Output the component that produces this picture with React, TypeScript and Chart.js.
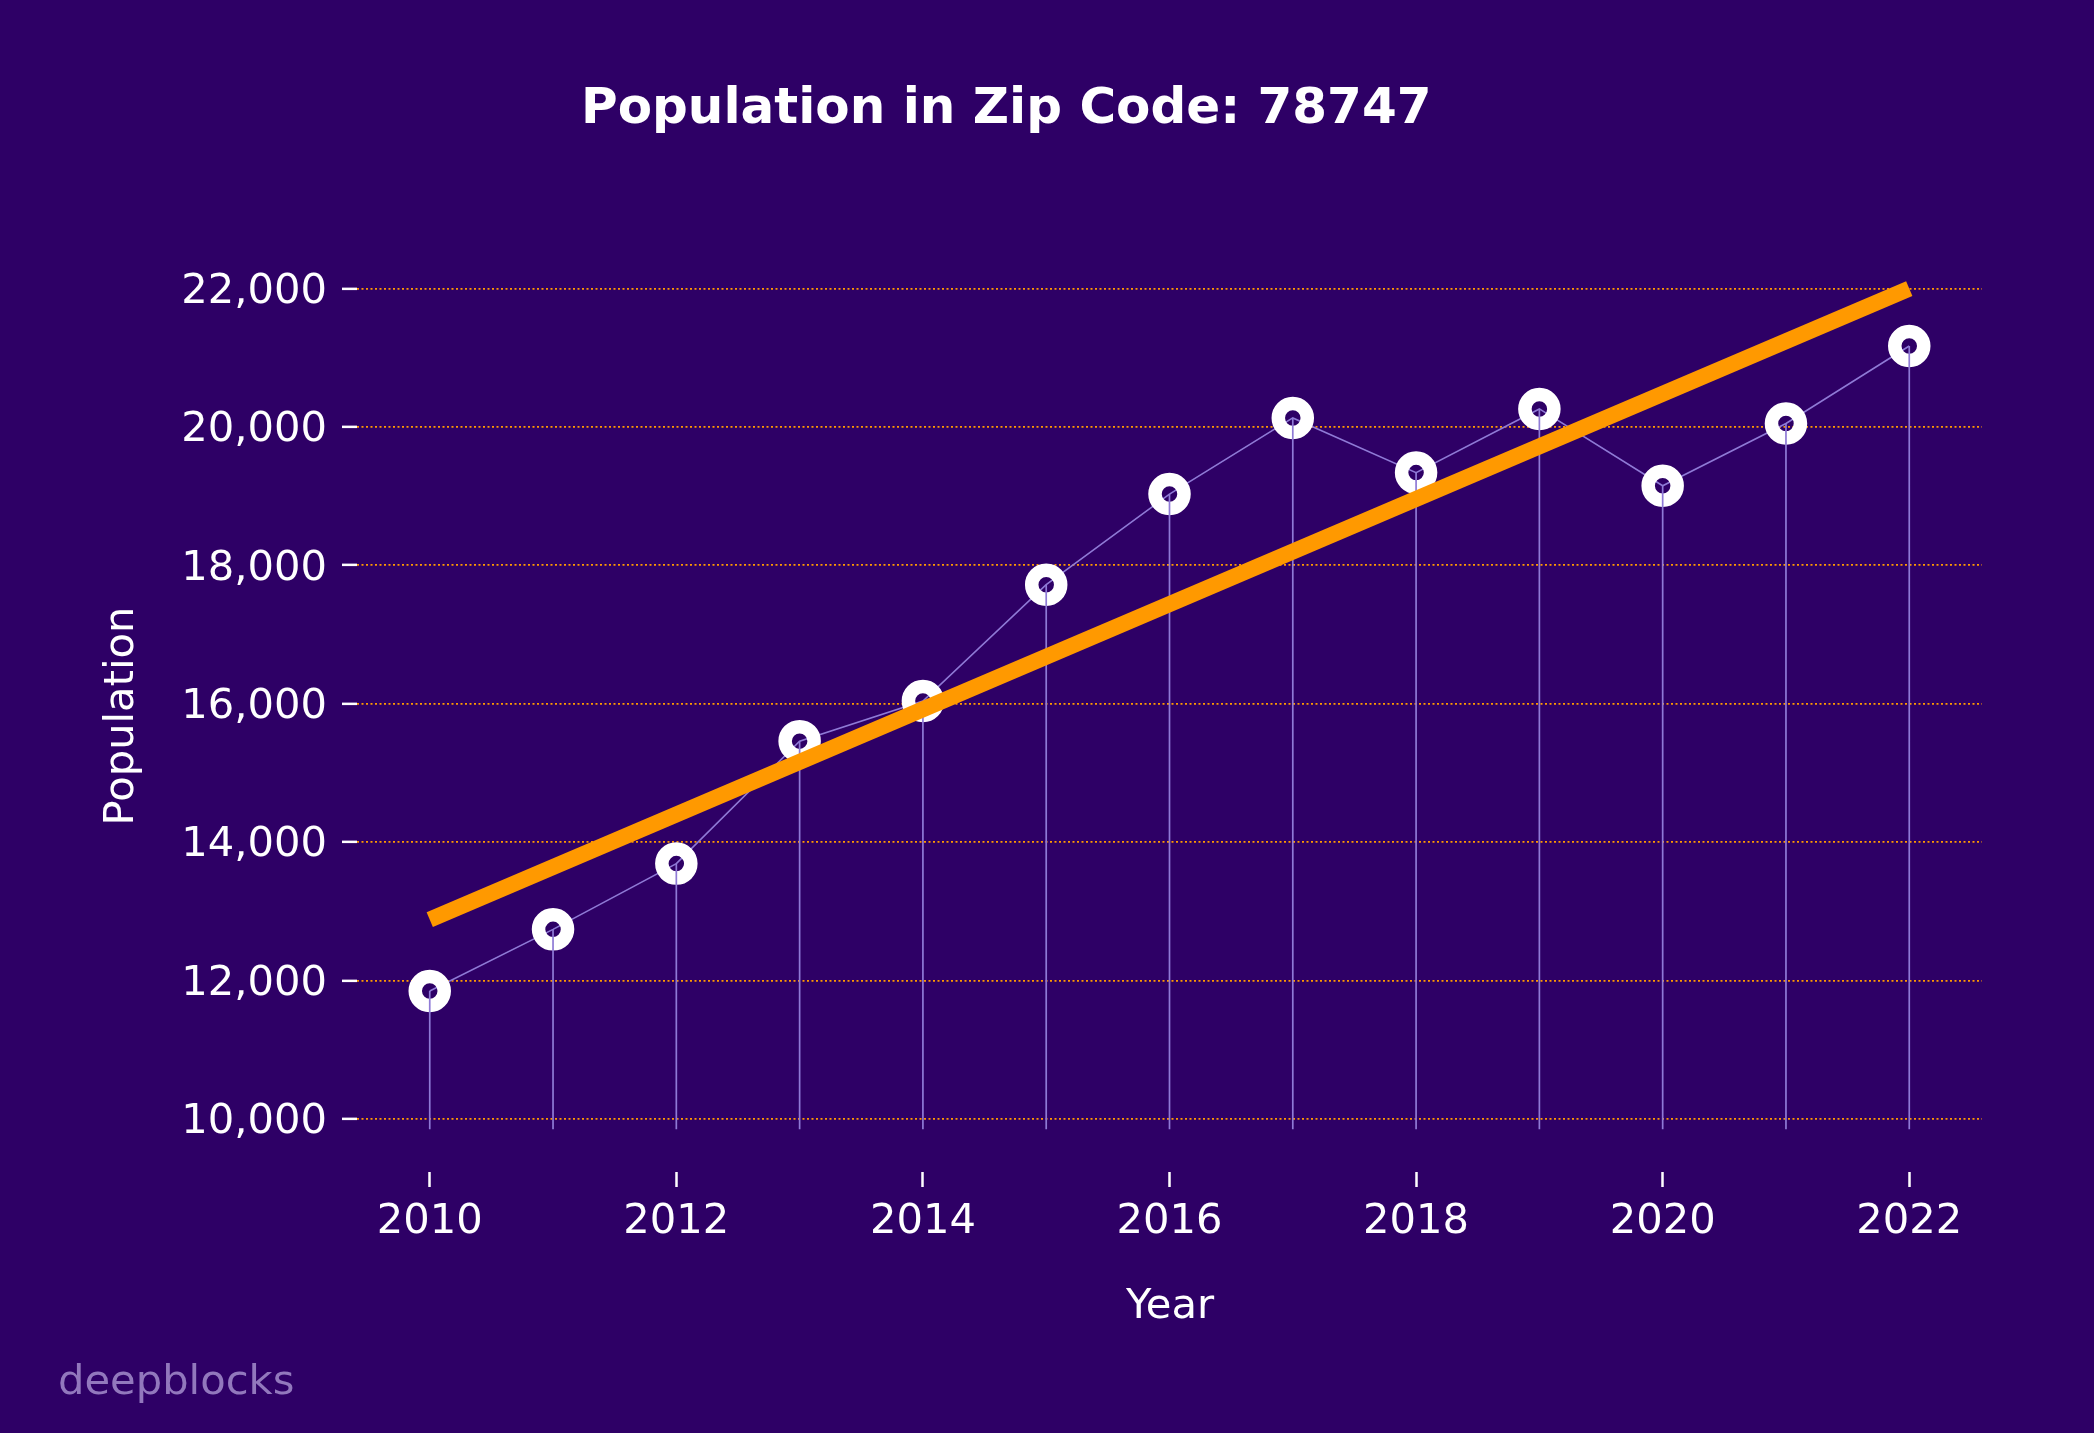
import React, { useEffect, useRef } from "react";
import { Chart, registerables } from "chart.js";

Chart.register(...registerables);

// ---- data ----
const years = [2010, 2011, 2012, 2013, 2014, 2015, 2016, 2017, 2018, 2019, 2020, 2021, 2022];
const population = [11850, 12740, 13690, 15460, 16040, 17720, 19030, 20130, 19340, 20260, 19150, 20050, 21170];
const trendYears = [2010, 2022];
const trendValues = [12880, 22000];
const stemBase = 9850;
const yTickValues = [10000, 12000, 14000, 16000, 18000, 20000, 22000];
const xTickValues = [2010, 2012, 2014, 2016, 2018, 2020, 2022];
const titleText = "Population in Zip Code: 78747";
const xTitleText = "Year";
const yTitleText = "Population";
const watermarkText = "deepblocks";

// ---- styles ----
const W = 2094;
const H = 1433;
const BG = "#2e0066";
const ORANGE = "#ff9900";
const LAV = "#8f7ad6";
const WATERMARK = "#9278bd";
const FONT = "'DejaVu Sans', sans-serif";
const TICK_SIZE = 41.67;

const textPlugin = {
  id: "texts",
  beforeDraw(chart: any) {
    const ctx = chart.ctx;
    ctx.save();
    ctx.fillStyle = BG;
    ctx.fillRect(0, 0, chart.width, chart.height);
    ctx.restore();
  },
  afterDraw(chart: any) {
    const ctx = chart.ctx;
    ctx.save();
    ctx.fillStyle = "#ffffff";
    ctx.textBaseline = "alphabetic";
    ctx.font = `bold 50px ${FONT}`;
    ctx.textAlign = "left";
    ctx.fillText(titleText, 581, 123);

    ctx.font = `${TICK_SIZE}px ${FONT}`;
    ctx.textAlign = "center";
    ctx.fillText(xTitleText, 1170, 1318);

    ctx.save();
    ctx.translate(133, 716);
    ctx.rotate(-Math.PI / 2);
    ctx.textAlign = "center";
    ctx.fillText(yTitleText, 0, 0);
    ctx.restore();

    ctx.fillStyle = WATERMARK;
    ctx.textAlign = "left";
    ctx.fillText(watermarkText, 58, 1394);
    ctx.restore();
  },
};

export default function App() {
  const ref = useRef<HTMLCanvasElement | null>(null);

  useEffect(() => {
    if (!ref.current) return;
    const stemData: any[] = [];
    years.forEach((yr, i) => {
      stemData.push({ x: yr, y: stemBase });
      stemData.push({ x: yr, y: population[i] });
      stemData.push({ x: yr, y: null });
    });

    const chart = new Chart(ref.current, {
      type: "line",
      data: {
        datasets: [
          {
            label: "trend",
            order: 0,
            data: trendYears.map((x, i) => ({ x, y: trendValues[i] })),
            borderColor: ORANGE,
            borderWidth: 16,
            borderCapStyle: "butt",
            pointRadius: 0,
            fill: false,
          } as any,
          {
            label: "stems",
            order: 1,
            data: stemData,
            borderColor: LAV,
            borderWidth: 1.7,
            pointRadius: 0,
            spanGaps: false,
            fill: false,
          } as any,
          {
            label: "population",
            order: 2,
            data: years.map((x, i) => ({ x, y: population[i] })),
            borderColor: LAV,
            borderWidth: 1.6,
            pointRadius: 14.5,
            pointBorderWidth: 13.5,
            pointBorderColor: "#ffffff",
            pointBackgroundColor: "rgba(0,0,0,0)",
            tension: 0,
            fill: false,
          } as any,
        ],
      },
      options: {
        animation: false,
        responsive: false,
        maintainAspectRatio: false,
        devicePixelRatio: 1,
        events: [],
        layout: { padding: { top: 247, right: 112, bottom: 0, left: 0 } },
        plugins: {
          legend: { display: false },
          tooltip: { enabled: false },
          title: { display: false },
        },
        scales: {
          x: {
            type: "linear",
            min: 2009.41,
            max: 2022.59,
            afterBuildTicks: (s: any) => {
              s.ticks = xTickValues.map((v) => ({ value: v }));
            },
            afterFit: (s: any) => {
              s.height = 261;
            },
            ticks: {
              color: "#ffffff",
              font: { family: FONT, size: TICK_SIZE },
              padding: 10,
              autoSkip: false,
              maxRotation: 0,
              minRotation: 0,
              callback: (v: any) => String(v),
            },
            grid: {
              drawOnChartArea: false,
              drawTicks: true,
              tickLength: 15,
              tickColor: "#ffffff",
              tickWidth: 2.5,
            },
            border: { display: false },
          },
          y: {
            type: "linear",
            min: 9234,
            max: 22600,
            afterBuildTicks: (s: any) => {
              s.ticks = yTickValues.map((v) => ({ value: v }));
            },
            afterFit: (s: any) => {
              s.width = 357;
            },
            ticks: {
              color: "#ffffff",
              font: { family: FONT, size: TICK_SIZE },
              padding: 15,
              labelOffset: 3.5,
              autoSkip: false,
              callback: (v: any) => Number(v).toLocaleString("en-US"),
            },
            grid: {
              color: ORANGE,
              lineWidth: 1.7,
              drawOnChartArea: true,
              drawTicks: true,
              tickLength: 15,
              tickColor: "#ffffff",
              tickWidth: 2.5,
            },
            border: { display: false, dash: [2, 2.5] },
          },
        },
      } as any,
      plugins: [textPlugin],
    });

    return () => chart.destroy();
  }, []);

  return (
    <div style={{ position: "absolute", left: 0, top: 0, width: W, height: H, background: BG }}>
      <canvas ref={ref} width={W} height={H} style={{ display: "block", width: W, height: H }} />
    </div>
  );
}
